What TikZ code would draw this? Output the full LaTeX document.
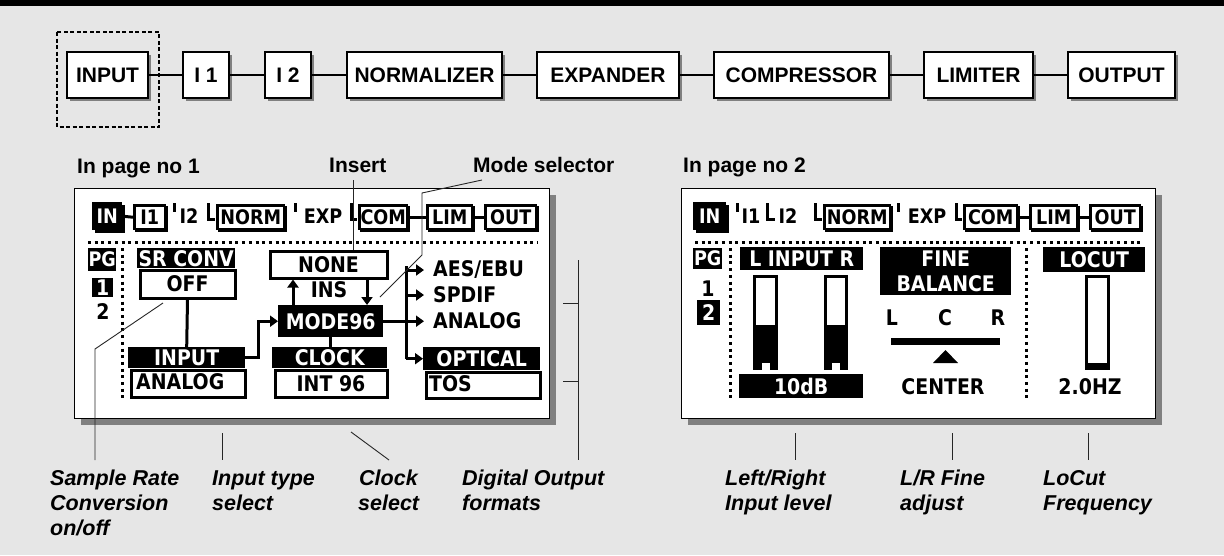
\documentclass[tikz,border=0pt]{standalone}
\usepackage{fontspec}
\usepackage{graphicx}
\setmainfont{Liberation Sans}
\newfontfamily\lcdfam[FakeStretch=0.88]{DejaVu Sans}
\usetikzlibrary{arrows.meta}
\definecolor{bg}{HTML}{E6E6E6}
\definecolor{shd}{HTML}{808080}
\newcommand\chainfont{\bfseries\fontsize{21}{25}\selectfont}
\newcommand\lblfont{\bfseries\fontsize{21}{25}\selectfont}
\newcommand\capfont{\bfseries\itshape\fontsize{21.5}{25}\selectfont}
\newcommand\lcdfont{\lcdfam\bfseries\fontsize{21.5}{21.5}\selectfont}
\newcommand\tabfont{\lcdfam\bfseries\fontsize{20}{20}\selectfont}
\tikzset{
 chainbox/.style={draw=black, line width=1.2pt, fill=white, minimum height=46pt, inner sep=0pt, font=\chainfont},
 chainline/.style={line width=1.6pt},
 lbl/.style={font=\lblfont, anchor=base west, inner sep=0pt},
 captxt/.style={font=\capfont, anchor=base west, inner sep=0pt},
 leader/.style={line width=0.9pt, black!85},
 hdr/.style={fill=black, text=white, inner sep=0pt, font=\lcdfont, anchor=north west},
 obox/.style={draw=black, line width=3pt, fill=white, inner sep=0pt, font=\lcdfont, anchor=north west},
 ltxt/.style={font=\lcdfont, inner sep=0pt},
 lwire/.style={line width=3pt},
 lcdarrow/.style={-{Triangle[width=11pt,length=8pt]}},
 dotline/.style={line width=3pt, dash pattern=on 3pt off 3.7pt},
}
\newcommand\chainbox[4]{%
 \fill[shd] ({#2+3},55) rectangle ({#3+3},101);
 \node[chainbox, minimum width={#3-#2}] (#1) at ({(#2+#3)/2},75) {#4};}
\newcommand\hdrbox[6]{\node[hdr, minimum width={#4-#2}, minimum height={#5-#3}] (#1) at (#2,#3) {#6};}
\newcommand\outbox[6]{\node[obox, minimum width={#4-#2-3}, minimum height={#5-#3-3}] (#1) at ({#2+1.5},{#3+1.5}) {#6};}
\newcommand\tabbox[4]{%
 \fill ({#2+3},206) rectangle ({#3+3},232);
 \node[obox, font=\tabfont, line width=2.5pt, minimum width={#3-#2-2.5}, minimum height=23.5] (#1) at ({#2+1.25},204.25) {#4};}
\newcommand\tabsel[4]{%
 \fill ({#2+3},205) rectangle ({#3+3},233);
 \node[hdr, font=\tabfont, minimum width={#3-#2}, minimum height=28] (#1) at (#2,202) {#4};}
\begin{document}
\begin{tikzpicture}[x=1pt,y=-1pt]
\useasboundingbox (0,0) rectangle (1224,555);
\fill[bg] (0,0) rectangle (1224,555);
\fill[black] (0,0) rectangle (1224,6);
% ---------- chain ----------
\chainbox{inp}{67}{148}{INPUT}
\chainbox{ia}{183}{229}{I 1}
\chainbox{ib}{265}{311}{I 2}
\chainbox{norm}{347}{502}{NORMALIZER}
\chainbox{expd}{537}{679}{EXPANDER}
\chainbox{comp}{714}{889}{COMPRESSOR}
\chainbox{limt}{924}{1033}{LIMITER}
\chainbox{outp}{1068}{1175}{OUTPUT}
\draw[chainline] (inp.east) -- (ia.west) (ia.east) -- (ib.west) (ib.east) -- (norm.west)
  (norm.east) -- (expd.west) (expd.east) -- (comp.west) (comp.east) -- (limt.west) (limt.east) -- (outp.west);
\draw[line width=1.1pt, dash pattern=on 4pt off 2.5pt] (57,32) rectangle (159,127);
% ---------- labels ----------
\node[lbl] (pg1) at (77,173) {In page no 1};
\node[lbl] (ins) at (329,172) {Insert};
\node[lbl] (modesel) at (473,172) {Mode selector};
\node[lbl] (pg2) at (683,172) {In page no 2};
% ---------- LCD frames ----------
\fill[shd] (81,195) rectangle (556,425);
\draw[fill=white, line width=1pt] (74,188) rectangle (549,418);
\fill[shd] (688,195) rectangle (1162,425);
\draw[fill=white, line width=1pt] (681,188) rectangle (1155,418);
% ---------- left LCD tabs ----------
\tabsel{lin}{92}{122}{IN}
\tabbox{la1}{132}{165}{I1}
\draw[lwire] (lin.east) -- (la1.west);
\draw[lwire] (174.5,203) -- (174.5,212);
\node[ltxt,font=\tabfont] (la2) at (189,216.5) {I2};
\draw[lwire] (208,203) -- (208,219.5) -- (215,219.5);
\tabbox{la3}{215}{284}{NORM}
\draw[lwire] (295,203) -- (295,212);
\node[ltxt,font=\tabfont] (la4) at (323,216.5) {EXP};
\draw[lwire] (351,203) -- (351,219.5) -- (357,219.5);
\tabbox{la5}{357}{407}{COM}
\tabbox{la6}{425}{472}{LIM}
\tabbox{la7}{483}{536}{OUT}
\draw[lwire] (la5.east) -- (la6.west) (la6.east) -- (la7.west);
\draw[dotline] (88,242) -- (537,242);
\draw[dotline] (122,248) -- (122,398);
% PG column
\hdrbox{lpg}{88}{248}{116}{271}{\tabfont PG}
\hdrbox{lp1}{92}{278}{113}{297}{1}
\node[ltxt] (lp2) at (103,312) {2};
% SR conv / input
\hdrbox{src}{137}{248}{235}{268}{SR CONV}
\outbox{off}{137}{267}{235}{298}{OFF}
\hdrbox{inh}{128}{347}{245}{368}{INPUT}
\outbox{anb}{128}{367}{245}{397}{}
\node[ltxt, anchor=west] (ant) at (136,382) {ANALOG};
\draw[lwire] (off.south) -- (inh.north);
% insert / mode
\outbox{none}{267}{248}{387}{278}{NONE}
\node[ltxt] (inst) at (329,290) {INS};
\hdrbox{mode}{278}{305}{383}{337}{MODE96}
\draw[lwire, lcdarrow] (293,0 |- mode.north) -- (293,0 |- none.south);
\draw[lwire, lcdarrow] (367,0 |- none.south) -- (367,0 |- mode.north);
\hdrbox{clk}{272}{347}{387}{368}{CLOCK}
\outbox{intb}{272}{367}{387}{397}{INT 96}
\draw[lwire] (mode.south) -- (mode.south |- clk.north);
\draw[lwire, lcdarrow] (inh.east) -- (258,0 |- inh.east) -- (258,0 |- mode.west) -- (mode.west);
% outputs
\node[ltxt, anchor=west] (aes) at (433,270) {AES/EBU};
\node[ltxt, anchor=west] (spd) at (433,295) {SPDIF};
\node[ltxt, anchor=west] (ana) at (433,321) {ANALOG};
\hdrbox{opt}{423}{347}{540}{370}{OPTICAL}
\outbox{tosb}{423}{369}{540}{398}{}
\node[ltxt, anchor=west] (tos) at (429,384) {TOS};
\draw[lwire] (406,266) -- (406,0 |- opt.west);
\draw[lwire, lcdarrow, shorten >=9pt] (mode.east) -- (mode.east -| ana.west);
\draw[lwire, lcdarrow, shorten >=9pt] (406,0 |- aes.west) -- (aes.west);
\draw[lwire, lcdarrow, shorten >=9pt] (406,0 |- spd.west) -- (spd.west);
\draw[lwire, lcdarrow] (406,0 |- opt.west) -- (opt.west);
% ---------- left leaders ----------
\draw[leader] (353,180) -- (353,0 |- none.north);
\draw[leader] (482,180) -- (422,193) -- (422,255) -- (380,297);
\draw[leader] (95,460) -- (95,349) -- (163,303);
\draw[leader] (222,433) -- (222,460);
\draw[leader] (351,432) -- (389,460);
\draw[leader] (578,260) -- (578,460);
\draw[leader] (563,303) -- (578,303) (563,381) -- (578,381);
% ---------- right LCD tabs ----------
\tabsel{rin}{693}{726}{IN}
\draw[lwire] (737,203) -- (737,212);
\node[ltxt,font=\tabfont] (ra1) at (751,216.5) {I1};
\draw[lwire] (767,203) -- (767,219.5) -- (775,219.5);
\node[ltxt,font=\tabfont] (ra2) at (788,216.5) {I2};
\draw[lwire] (815,203) -- (815,219.5) -- (822,219.5);
\tabbox{ra3}{822}{890}{NORM}
\draw[lwire] (898,203) -- (898,212);
\node[ltxt,font=\tabfont] (ra4) at (927,216.5) {EXP};
\draw[lwire] (956,203) -- (956,219.5) -- (962,219.5);
\tabbox{ra5}{962}{1017}{COM}
\tabbox{ra6}{1028}{1077}{LIM}
\tabbox{ra7}{1088}{1140}{OUT}
\draw[lwire] (ra5.east) -- (ra6.west) (ra6.east) -- (ra7.west);
\draw[dotline] (695,242) -- (1140,242);
\draw[dotline] (730,248) -- (730,398);
\draw[dotline] (1026,248) -- (1026,398);
\hdrbox{rpg}{693}{248}{722}{269}{\tabfont PG}
\node[ltxt] (rp1) at (708,289) {1};
\hdrbox{rp2}{697}{300}{720}{325}{2}
% input meters
\hdrbox{lir}{740}{247}{863}{270}{L INPUT R}
\draw[line width=3pt, fill=white] (754.5,276.5) rectangle (776.5,368.5);
\fill (753,325) rectangle (778,370);
\fill[white] (762,363) rectangle (770,370);
\draw[line width=3pt, fill=white] (825.5,276.5) rectangle (846.5,368.5);
\fill (824,325) rectangle (848,370);
\fill[white] (832,363) rectangle (840,370);
\hdrbox{lvl}{739}{374}{863}{398}{10dB}
% fine balance
\node[hdr, align=center, font=\lcdfam\bfseries\fontsize{21.5}{25}\selectfont, minimum width=131, minimum height=48] (fb) at (880,247) {FINE\\BALANCE};
\node[ltxt] (bl) at (892,318) {L};
\node[ltxt] (bc) at (945,318) {C};
\node[ltxt] (br) at (998,318) {R};
\fill (891,338) rectangle (1000,345);
\fill (933,363) -- (958,363) -- (945.5,350) -- cycle;
\node[ltxt] (ctr) at (943,387) {CENTER};
% locut
\hdrbox{lcut}{1043}{247}{1145}{272}{LOCUT}
\draw[line width=3pt, fill=white] (1086.5,276.5) rectangle (1108.5,368.5);
\fill (1085,363) rectangle (1110,370);
\node[ltxt] (hz) at (1090,387) {2.0HZ};
% ---------- right leaders ----------
\draw[leader] (795,433) -- (795,460);
\draw[leader] (952,433) -- (952,460);
\draw[leader] (1088,433) -- (1088,460);
% ---------- captions ----------
\node[captxt] (c1a) at (50,485) {Sample Rate};
\node[captxt] (c1b) at (50,510) {Conversion};
\node[captxt] (c1c) at (50,535) {on/off};
\node[captxt] (c2a) at (212,485) {Input type};
\node[captxt] (c2b) at (212,510) {select};
\node[captxt] (c3a) at (359,485) {Clock};
\node[captxt] (c3b) at (358,510) {select};
\node[captxt] (c4a) at (462,485) {Digital Output};
\node[captxt] (c4b) at (462,510) {formats};
\node[captxt] (c5a) at (725,485) {Left/Right};
\node[captxt] (c5b) at (725,510) {Input level};
\node[captxt] (c6a) at (900,485) {L/R Fine};
\node[captxt] (c6b) at (900,510) {adjust};
\node[captxt] (c7a) at (1043,485) {LoCut};
\node[captxt] (c7b) at (1043,510) {Frequency};
\end{tikzpicture}
\end{document}
